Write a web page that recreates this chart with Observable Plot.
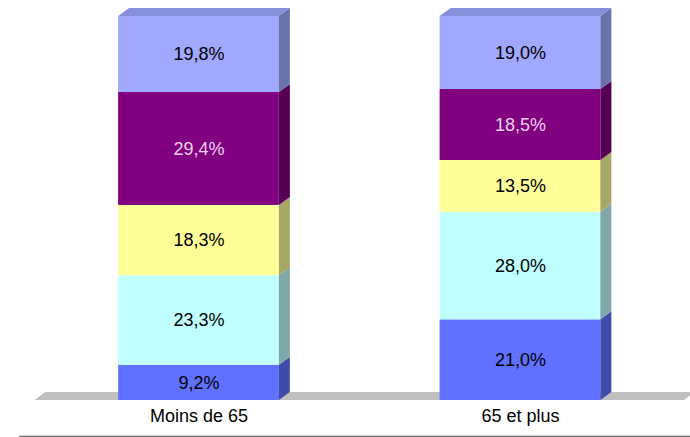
<!DOCTYPE html>
<html>
<head>
<meta charset="utf-8">
<script src="https://cdn.jsdelivr.net/npm/d3@7"></script>
<script src="https://cdn.jsdelivr.net/npm/@observablehq/plot@0.6"></script>
<style>
  html, body { margin: 0; padding: 0; background: #fff; }
  #chart svg { display: block; }
</style>
</head>
<body>
<div id="chart"></div>
<script>
// ---- data ----
const categories = ["Moins de 65", "65 et plus"];
const series = ["Série 1", "Série 2", "Série 3", "Série 4", "Série 5"]; // bottom -> top
const valuesMoinsDe65 = [9.2, 23.3, 18.3, 29.4, 19.8];
const values65EtPlus = [21.0, 28.0, 13.5, 18.5, 19.0];
const valueLabelsMoinsDe65 = ["9,2%", "23,3%", "18,3%", "29,4%", "19,8%"];
const valueLabels65EtPlus = ["21,0%", "28,0%", "13,5%", "18,5%", "19,0%"];

// ---- styles ----
const frontColors = ["#6070ff", "#c0ffff", "#ffff99", "#800080", "#a0a8ff"];
const sideColors  = ["#3f4daa", "#80a8a8", "#a8a866", "#550055", "#6a72aa"];
const topColor = "#8890dd";
const labelColors = ["#000", "#000", "#000", "#ecd0ec", "#000"];
const depthX = 0.0342;   // 3D depth in x units
const depthY = 2.083;    // 3D depth in y units
const barHalf = 0.25;

// ---- build tables ----
const allValues = [valuesMoinsDe65, values65EtPlus];
const allLabels = [valueLabelsMoinsDe65, valueLabels65EtPlus];
const segs = [];
categories.forEach((c, i) => {
  let acc = 0;
  allValues[i].forEach((v, j) => {
    segs.push({
      cat: i, series: series[j], key: c + "|" + series[j],
      x1: i + 0.5 - barHalf, x2: i + 0.5 + barHalf,
      y1: acc, y2: acc + v, mid: acc + v / 2,
      fill: frontColors[j], side: sideColors[j],
      label: allLabels[i][j], labelColor: labelColors[j], top: j === series.length - 1
    });
    acc += v;
  });
});

const sidePts = segs.flatMap(s => [
  {key: s.key, x: s.x2, y1: s.y1, y2: s.y2, fill: s.side},
  {key: s.key, x: s.x2 + depthX, y1: s.y1 + depthY, y2: s.y2 + depthY, fill: s.side}
]);
const topPts = segs.filter(s => s.top).flatMap(s => [
  {key: s.key, y: s.y2, x1: s.x1, x2: s.x2, fill: topColor},
  {key: s.key, y: s.y2 + depthY, x1: s.x1 + depthX, x2: s.x2 + depthX, fill: topColor}
]);
const floorPts = [
  {y: 0, x1: -0.01, x2: categories.length + 0.01},
  {y: depthY, x1: -0.01 + depthX, x2: categories.length + 0.01 + depthX}
];
const bottomLine = [{y: -9.4, x1: -0.058, x2: 2.0288}];

const chart = Plot.plot({
  width: 690,
  height: 437,
  marginLeft: 0,
  marginRight: 0,
  marginTop: 16,
  marginBottom: 37,
  style: {fontFamily: "'Liberation Sans', Arial, sans-serif", background: "#fff"},
  x: {domain: [-0.1174, 2.0288], axis: null},
  y: {domain: [0, 100], axis: null},
  color: {type: "identity"},
  marks: [
    Plot.areaX(floorPts, {y: "y", x1: "x1", x2: "x2", fill: "#c0c0c0"}),
    Plot.rect(segs, {x1: "x1", x2: "x2", y1: "y1", y2: "y2", fill: "fill"}),
    Plot.area(sidePts, {x1: "x", y1: "y1", y2: "y2", z: "key", fill: "fill"}),
    Plot.areaX(topPts, {y: "y", x1: "x1", x2: "x2", z: "key", fill: "fill"}),
    Plot.text(segs, {x: d => d.cat + 0.5, y: "mid", text: "label", fill: "labelColor", fontSize: 18}),
    Plot.axisX({ticks: categories.map((c, i) => i + 0.5), tickFormat: t => categories[Math.floor(t)],
      tickSize: 0, tickPadding: 9, fontSize: 18, fill: "#000"}),
    Plot.ruleY(bottomLine, {y: "y", x1: "x1", x2: "x2", stroke: "#6a6a6a", strokeWidth: 1.5})
  ]
});
document.getElementById("chart").appendChild(chart);
</script>
</body>
</html>
